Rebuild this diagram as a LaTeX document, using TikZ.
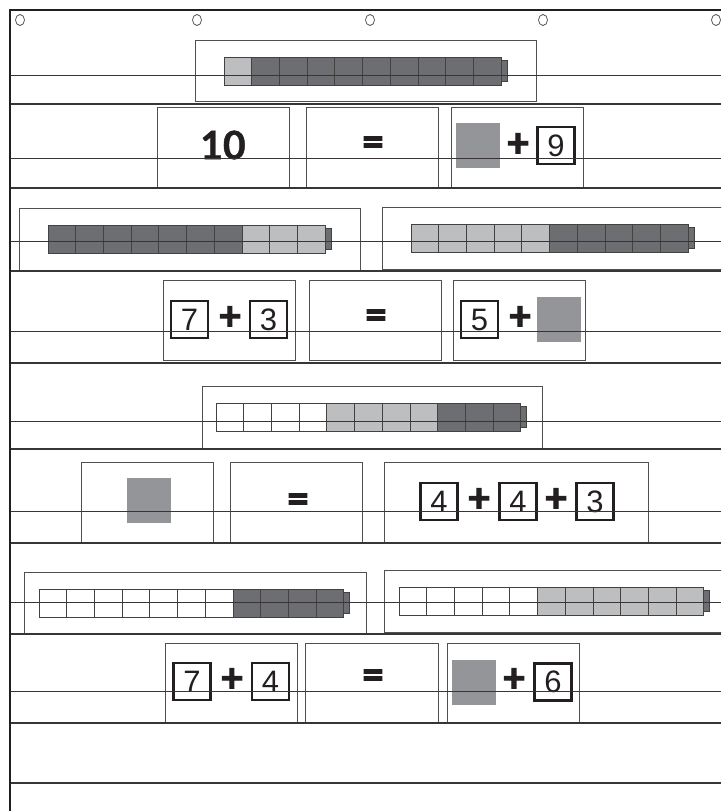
\documentclass[tikz,border=0pt]{standalone}
\usepackage{fontspec}
\setmainfont{Lato}
\newfontfamily\handfont{Liberation Sans}
\newfontfamily\heavyfont{Lato}[BoldFeatures={FakeBold=2.5}]
\newfontfamily\numfont{Lato}[BoldFeatures={FakeBold=1.2}]
\definecolor{cubedark}{HTML}{6D6E71}
\definecolor{cubelight}{HTML}{BCBEC0}
\definecolor{blankgray}{HTML}{939598}
\definecolor{cardline}{HTML}{505050}
\definecolor{inkline}{HTML}{231F20}
\tikzset{
  card/.style={draw=cardline, line width=0.9pt, fill=white, inner sep=0pt, outer sep=0pt},
  cube/.style={draw=inkline!85, line width=0.8pt},
  cubecap/.style={draw=inkline!85, line width=0.8pt},
  numbox/.style={draw=inkline, line width=2.3pt, minimum width=37pt, minimum height=37pt, inner sep=0pt,
    font=\handfont\fontsize{31}{31}\selectfont, text=inkline},
  blank/.style={fill=blankgray, minimum width=44pt, minimum height=45pt, inner sep=0pt},
  sign/.style={inner sep=0pt, font=\heavyfont\bfseries\fontsize{40}{40}\selectfont, text=inkline},
  bignum/.style={inner sep=0pt, font=\numfont\bfseries\fontsize{39}{39}\selectfont, text=inkline},
  frontline/.style={draw=inkline!90, line width=0.9pt},
  bottomline/.style={draw=inkline!90, line width=1.4pt},
  frameline/.style={draw=inkline, line width=2pt},
  hole/.style={draw=inkline!80, line width=0.7pt, fill=white},
}
\newcommand{\card}[5]{\node[card, minimum width={#4-#2}, minimum height={#5-#3}] (#1) at ({(#2+#4)/2},{(#3+#5)/2}) {};}
% x, ytop, n, colour list
\newcommand{\cubebar}[4]{%
  \foreach \c [count=\i from 0] in {#4} {\draw[cube, fill=\c] ({#1+\i*27.7},#2) rectangle ++(27.7,28);}
  \draw[cubecap, fill=cubedark] ({#1+#3*27.7},{#2+3.5}) rectangle ++(6,21);}
\begin{document}
\begin{tikzpicture}[x=1pt,y=-1pt]
\useasboundingbox (0,0) rectangle (721,811);
\clip (0,0) rectangle (721,811);
\fill[white] (0,0) rectangle (721,811);

% row 1
\card{r1a}{195}{40}{536}{101}
\cubebar{224}{57}{10}{cubelight,cubedark,cubedark,cubedark,cubedark,cubedark,cubedark,cubedark,cubedark,cubedark}

% row 2
\card{r2a}{157}{107}{289}{187}
\card{r2b}{306}{107}{438}{187}
\card{r2c}{451}{107}{583}{187}
\node[bignum] (t10) at (223,145) {10};
\node[sign] (eq2) at (373,146) {=};
\node[blank] (bl2) at (478,145.5) {};
\node[sign] (pl2) at (518,145) {+};
\node[numbox] (n9) at (556,145.5) {9};

% row 3
\card{r3a}{19}{208}{360}{270}
\card{r3b}{382}{207}{730}{269}
\cubebar{48}{225}{10}{cubedark,cubedark,cubedark,cubedark,cubedark,cubedark,cubedark,cubelight,cubelight,cubelight}
\cubebar{411}{224}{10}{cubelight,cubelight,cubelight,cubelight,cubelight,cubedark,cubedark,cubedark,cubedark,cubedark}

% row 4
\card{r4a}{163}{280}{295}{360}
\card{r4b}{309}{280}{441}{360}
\card{r4c}{453}{280}{585}{360}
\node[numbox] (n7a) at (189.5,319.5) {7};
\node[sign] (pl4a) at (230,318) {+};
\node[numbox] (n3a) at (268.5,319.5) {3};
\node[sign] (eq4) at (376,319) {=};
\node[numbox] (n5) at (479.5,319.5) {5};
\node[sign] (pl4b) at (520,318) {+};
\node[blank] (bl4) at (559,319.5) {};

% row 5
\card{r5a}{202}{386}{542}{448}
\cubebar{216}{403}{11}{white,white,white,white,cubelight,cubelight,cubelight,cubelight,cubedark,cubedark,cubedark}

% row 6
\card{r6a}{81}{462}{213}{543}
\card{r6b}{230}{462}{362}{543}
\card{r6c}{384}{462}{648}{543}
\node[blank] (bl6) at (149,500.5) {};
\node[sign] (eq6) at (298,503) {=};
\node[numbox] (n4a) at (439,501.5) {4};
\node[sign] (pl6a) at (479,500) {+};
\node[numbox] (n4b) at (518,501.5) {4};
\node[sign] (pl6b) at (556,500) {+};
\node[numbox] (n3b) at (595,501.5) {3};

% row 7
\card{r7a}{24}{572}{366}{634}
\card{r7b}{384}{570}{730}{632}
\cubebar{39}{589}{11}{white,white,white,white,white,white,white,cubedark,cubedark,cubedark,cubedark}
\cubebar{399}{587}{11}{white,white,white,white,white,cubelight,cubelight,cubelight,cubelight,cubelight,cubelight}

% row 8
\card{r8a}{165}{643}{297}{723}
\card{r8b}{305}{643}{438}{723}
\card{r8c}{447}{643}{579}{723}
\node[numbox] (n7b) at (192,681.5) {7};
\node[sign] (pl8a) at (232,680) {+};
\node[numbox] (n4c) at (270.5,681.5) {4};
\node[sign] (eq8) at (373,679) {=};
\node[blank] (bl8) at (474,682.5) {};
\node[sign] (pl8b) at (514,680) {+};
\node[numbox] (n6) at (553,682) {6};

% pocket lines
\foreach \y in {75,158,241,331,421,511,602,691} {\draw[frontline] (10,\y) -- (721,\y);}
\foreach \y in {104,188,271,363,449,543,634,723,783} {\draw[bottomline] (10,\y) -- (721,\y);}

% frame
\draw[frameline] (10,811) -- (10,10) -- (721,10);
\foreach \x in {20,197,370,543,716} {\draw[hole] (\x,20) ellipse [x radius=4.5, y radius=5.5];}
\end{tikzpicture}
\end{document}
